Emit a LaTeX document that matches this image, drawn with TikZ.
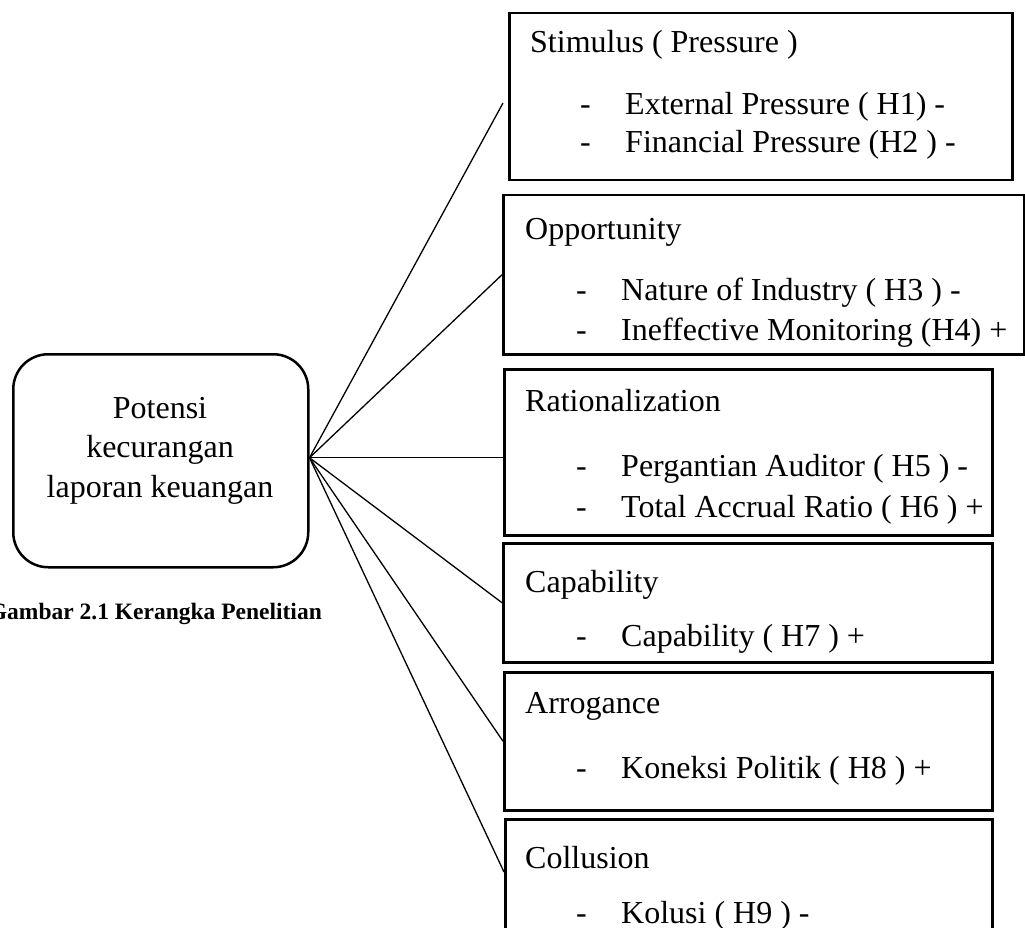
\documentclass[tikz,border=0pt]{standalone}
\usepackage{fontspec}
\setmainfont{Liberation Serif}
\begin{document}
\begin{tikzpicture}[x=1pt,y=-1pt,
  fbox/.style={draw, line width=2.5pt, inner sep=0pt, anchor=north west},
  hubbox/.style={draw, line width=2.5pt, rounded corners=35pt, inner sep=0pt, anchor=north west},
  txt/.style={inner sep=0pt, anchor=base west, font=\fontsize{32}{38}\selectfont},
  ctxt/.style={inner sep=0pt, anchor=base, font=\fontsize{32}{38}\selectfont},
  captxt/.style={inner sep=0pt, anchor=base east, font=\fontsize{23.5}{28}\selectfont\bfseries},
  conn/.style={line width=1.3pt}]
\useasboundingbox (0,0) rectangle (1025,928);
% central rounded box
\node[hubbox, minimum width=295pt, minimum height=213pt] (hub) at (12,353) {};
\node[ctxt] (h1) at (160,418) {Potensi};
\node[ctxt] (h2) at (160,457) {kecurangan};
\node[ctxt] (h3) at (160,497) {laporan keuangan};
\node[captxt] (caption) at (322,619) {Gambar 2.1 Kerangka Penelitian};
% boxes
\node[fbox, minimum width=503pt, minimum height=167pt] (b1) at (508,12) {};
\node[fbox, minimum width=521pt, minimum height=159pt] (b2) at (502,194) {};
\node[fbox, minimum width=488pt, minimum height=166pt] (b3) at (503,368) {};
\node[fbox, minimum width=489pt, minimum height=119pt] (b4) at (502,542) {};
\node[fbox, minimum width=488pt, minimum height=138pt] (b5) at (503,671) {};
\node[fbox, minimum width=487pt, minimum height=142pt] (b6) at (504,818) {};
% box 1
\node[txt] (t1) at (530,53) {Stimulus ( Pressure )};
\node[txt] (d1a) at (580,115) {-};
\node[txt] (i1a) at (625,115) {External Pressure ( H1) -};
\node[txt] (d1b) at (580,153) {-};
\node[txt] (i1b) at (625,153) {Financial Pressure (H2 ) -};
% box 2
\node[txt] (t2) at (525,239) {Opportunity};
\node[txt] (d2a) at (576,300) {-};
\node[txt] (i2a) at (621,300) {Nature of Industry ( H3 ) -};
\node[txt] (d2b) at (576,340) {-};
\node[txt] (i2b) at (621,340) {Ineffective Monitoring (H4) +};
% box 3
\node[txt] (t3) at (525,411) {Rationalization};
\node[txt] (d3a) at (576,476) {-};
\node[txt] (i3a) at (621,476) {Pergantian Auditor ( H5 ) -};
\node[txt] (d3b) at (576,517) {-};
\node[txt] (i3b) at (621,517) {Total Accrual Ratio ( H6 ) +};
% box 4
\node[txt] (t4) at (525,592) {Capability};
\node[txt] (d4a) at (576,646) {-};
\node[txt] (i4a) at (621,646) {Capability ( H7 ) +};
% box 5
\node[txt] (t5) at (525,713) {Arrogance};
\node[txt] (d5a) at (576,778) {-};
\node[txt] (i5a) at (621,778) {Koneksi Politik ( H8 ) +};
% box 6
\node[txt] (t6) at (525,868) {Collusion};
\node[txt] (d6a) at (576,923) {-};
\node[txt] (i6a) at (621,923) {Kolusi ( H9 ) -};
% connectors
\coordinate (hc) at ([yshift=3pt]hub.east);
\coordinate (e1) at (503,103);
\draw[conn] (hc) -- (e1);
\draw[conn] (hc) -- (b2.west);
\draw[conn] (hc) -- (hc -| b3.west);
\draw[conn] (hc) -- (b4.west);
\draw[conn] (hc) -- (b5.west);
\draw[conn] (hc) -- ([yshift=-54pt]b6.north west);
\end{tikzpicture}
\end{document}
